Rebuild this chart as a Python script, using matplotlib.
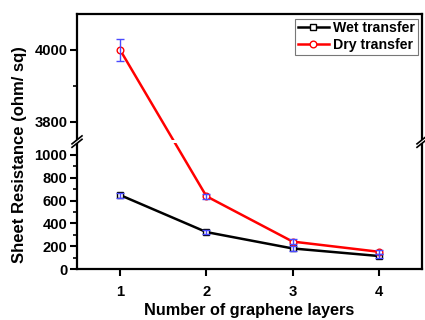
import numpy as np
import matplotlib
matplotlib.use("Agg")
import matplotlib.pyplot as plt
from matplotlib.lines import Line2D

plt.rcParams['font.family'] = ['Liberation Sans', 'DejaVu Sans']
plt.rcParams['font.weight'] = 'bold'

layers = [1, 2, 3, 4]
wet = [648, 325, 182, 116]
wet_err = [22, 20, 20, 15]
dry = [4000, 638, 242, 153]
dry_err = [30, 20, 20, 18]

xticks = [1, 2, 3, 4]
yticks = [0, 200, 400, 600, 800, 1000, 3800, 4000]
yminor = [100, 300, 500, 700, 900, 3900]

# broken axis via piecewise scale
B1, T0, TOP, G, K = 1100.0, 3750.0, 4100.0, 30.0, 3.14

def fwd(y):
    y = np.asarray(y, dtype=float)
    return np.where(y <= B1, y,
           np.where(y >= T0, B1 + G + (y - T0) * K,
                    B1 + (y - B1) / (T0 - B1) * G))

def inv(t):
    t = np.asarray(t, dtype=float)
    return np.where(t <= B1, t,
           np.where(t >= B1 + G, T0 + (t - B1 - G) / K,
                    B1 + (t - B1) / G * (T0 - B1)))

fig = plt.figure(figsize=(4.25, 3.2), dpi=100)
ax = fig.add_axes([77/425, 1 - 269.3/320, 345/425, 255.3/320])
ax.set_yscale('function', functions=(fwd, inv))
ax.set_ylim(0, TOP)
ax.set_xlim(0.5, 4.5)

ax.plot(layers, wet, color='black', lw=1.8, marker='s', ms=4.2,
        mfc='white', mec='black', mew=1.0, label='Wet transfer', zorder=2)
ax.plot(layers, dry, color='red', lw=1.8, marker='o', ms=4.8,
        mfc='white', mec='red', mew=1.0, label='Dry transfer', zorder=2)
ax.errorbar(layers, wet, yerr=wet_err, fmt='none', ecolor='#4a4aff',
            elinewidth=1.0, capsize=3, capthick=1.0, zorder=4)
ax.errorbar(layers, dry, yerr=dry_err, fmt='none', ecolor='#4a4aff',
            elinewidth=1.0, capsize=3, capthick=1.0, zorder=4)

# white band at the break
ax.axhspan(B1, T0, xmin=-0.03, xmax=1.03, color='white', clip_on=False,
           zorder=3, lw=0)

# break marks
total = fwd(TOP)
yb = float(fwd(B1)) / float(total)
yt = float(fwd(T0)) / float(total)
dx, dy = 5/345, 4/255.3
for xc in (0.0, 1.0):
    for yc in (yb, yt):
        ax.add_line(Line2D([xc - dx, xc + dx], [yc - dy, yc + dy],
                           transform=ax.transAxes, color='black', lw=1.2,
                           clip_on=False, zorder=6))

ax.set_xticks(xticks)
ax.set_xticklabels([str(v) for v in xticks])
ax.set_yticks(yticks)
ax.set_yticklabels([str(v) for v in yticks])
ax.set_yticks(yminor, minor=True)
ax.tick_params(axis='both', which='major', direction='out', length=5,
               width=1.5, labelsize=10.6, pad=2)
ax.tick_params(axis='x', which='major', pad=6)
ax.tick_params(axis='y', which='minor', direction='out', length=3, width=1.2)
ax.tick_params(axis='x', which='minor', bottom=False)
for lab in ax.get_xticklabels() + ax.get_yticklabels():
    lab.set_fontweight('bold')
for s in ax.spines.values():
    s.set_linewidth(1.6)

leg = ax.legend(loc='upper right', bbox_to_anchor=(0.988, 0.982),
                borderaxespad=0, fancybox=False, framealpha=1,
                edgecolor='#777777', handlelength=2.2,
                handletextpad=0.3, borderpad=0.2, labelspacing=0.2,
                prop={'weight': 'bold', 'size': 10.2})
leg.get_frame().set_linewidth(0.8)
leg.set_zorder(7)

fig.text(249.5/425, 1 - 311/320, 'Number of graphene layers', ha='center',
         va='center', fontsize=11.7, fontweight='bold')
fig.text(20/425, 1 - 155/320, 'Sheet Resistance (ohm/ sq)', ha='center',
         va='center', rotation=90, fontsize=12, fontweight='bold')

fig.savefig('out.png', dpi=100)
